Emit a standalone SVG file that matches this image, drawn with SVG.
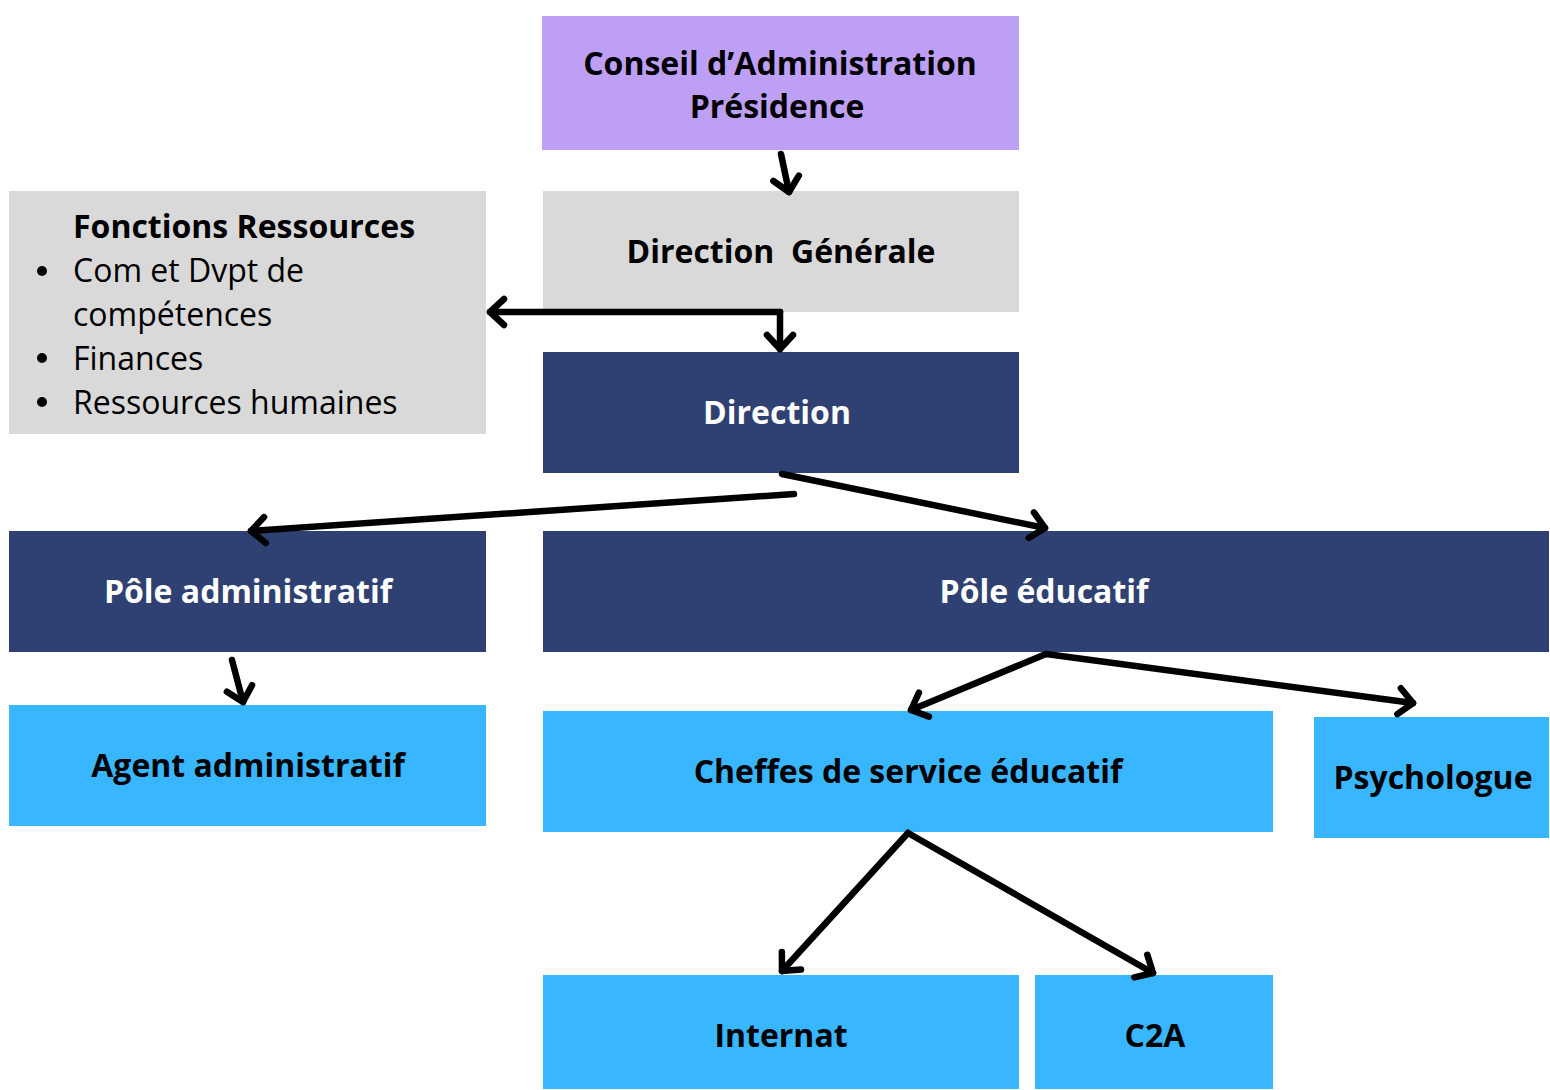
<svg xmlns="http://www.w3.org/2000/svg" width="1550" height="1090" viewBox="0 0 1550 1090">
<style>
.t{font-family:"Open Sans","Noto Sans","Liberation Sans",sans-serif;font-size:32px;font-weight:bold;text-anchor:middle}
.w{fill:#ffffff}
.k{fill:#000000}
.r{font-family:"Open Sans","Noto Sans","Liberation Sans",sans-serif;font-size:32px;fill:#000}
.c{fill:none;stroke:#000;stroke-width:6.5;stroke-linecap:round;stroke-linejoin:round}
</style>
<defs>
<marker id="ah" markerUnits="userSpaceOnUse" viewBox="-22 -18 28 36" refX="0" refY="0" markerWidth="28" markerHeight="36" orient="auto">
<path d="M-14,-13 L0,0 L-14,13" fill="none" stroke="#000" stroke-width="6.5" stroke-linecap="round" stroke-linejoin="round"/>
</marker>
</defs>
<rect width="1550" height="1090" fill="#ffffff"/>
<g id="conseil">
<rect x="542" y="16" width="477" height="134" fill="#bd9ff5"/>
<text class="t k" x="780" y="75">Conseil d’Administration</text>
<text class="t k" x="777" y="118">Présidence</text>
</g>
<g id="direction-generale">
<rect x="543" y="191" width="476" height="121" fill="#d9d9d9"/>
<text class="t k" x="781" y="263" xml:space="preserve">Direction  Générale</text>
</g>
<g id="fonctions-ressources">
<rect x="9" y="191" width="477" height="243" fill="#d9d9d9"/>
<text class="t k" x="73" y="238" style="text-anchor:start">Fonctions Ressources</text>
<circle cx="42" cy="271" r="5" fill="#000"/>
<text class="r" x="73" y="282">Com et Dvpt de</text>
<text class="r" x="73" y="326">compétences</text>
<circle cx="42" cy="358" r="5" fill="#000"/>
<text class="r" x="73" y="370">Finances</text>
<circle cx="42" cy="402" r="5" fill="#000"/>
<text class="r" x="73" y="414">Ressources humaines</text>
</g>
<g id="direction">
<rect x="543" y="352" width="476" height="121" fill="#2f4172"/>
<text class="t w" x="777" y="424">Direction</text>
</g>
<g id="pole-administratif">
<rect x="9" y="531" width="477" height="121" fill="#2f4172"/>
<text class="t w" x="248" y="603">Pôle administratif</text>
</g>
<g id="pole-educatif">
<rect x="543" y="531" width="1006" height="121" fill="#2f4172"/>
<text class="t w" x="1044" y="603">Pôle éducatif</text>
</g>
<g id="agent-administratif">
<rect x="9" y="705" width="477" height="121" fill="#38b6ff"/>
<text class="t k" x="248" y="777">Agent administratif</text>
</g>
<g id="cheffes">
<rect x="543" y="711" width="730" height="121" fill="#38b6ff"/>
<text class="t k" x="908" y="783">Cheffes de service éducatif</text>
</g>
<g id="psychologue">
<rect x="1314" y="717" width="235" height="121" fill="#38b6ff"/>
<text class="t k" x="1433" y="789">Psychologue</text>
</g>
<g id="internat">
<rect x="543" y="975" width="476" height="114" fill="#38b6ff"/>
<text class="t k" x="781" y="1047">Internat</text>
</g>
<g id="c2a">
<rect x="1035" y="975" width="238" height="114" fill="#38b6ff"/>
<text class="t k" x="1155" y="1047">C2A</text>
</g>
<g id="connectors">
<path class="c" d="M781,154 L789,192" marker-end="url(#ah)"/>
<path class="c" d="M780,312 L490,312" marker-end="url(#ah)"/>
<path class="c" d="M780,312 L780,349" marker-end="url(#ah)"/>
<path class="c" d="M794,494 L251,531" marker-end="url(#ah)"/>
<path class="c" d="M782,474 L1045,528" marker-end="url(#ah)"/>
<path class="c" d="M1046,654 L911,710" marker-end="url(#ah)"/>
<path class="c" d="M1046,654 L1413,703" marker-end="url(#ah)"/>
<path class="c" d="M908,833 L782,971" marker-end="url(#ah)"/>
<path class="c" d="M908,833 L1153,973" marker-end="url(#ah)"/>
<path class="c" d="M232,660 L243,702" marker-end="url(#ah)"/>
</g>
</svg>
